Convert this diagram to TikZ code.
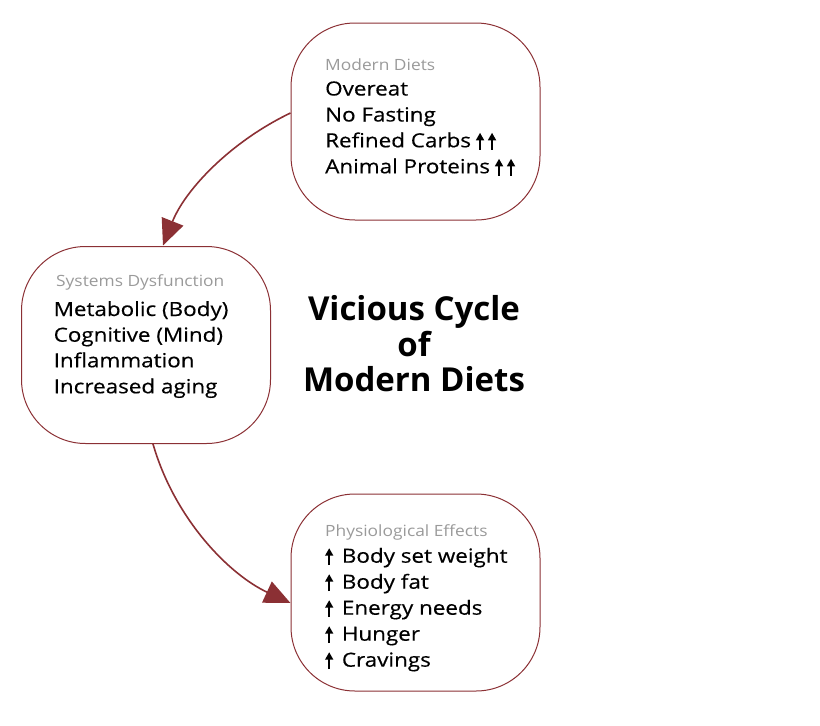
\documentclass[tikz,border=0pt]{standalone}
\usepackage{fontspec}
\setmainfont[FakeStretch=1.15,FakeBold=0.4]{Open Sans}
\newfontfamily\titlefont{Open Sans}
\newfontfamily\headfont[FakeStretch=1.12]{Open Sans}
\usetikzlibrary{arrows.meta}
\definecolor{boxred}{HTML}{8B3034}
\definecolor{subgray}{HTML}{9A9A9A}
\newcommand{\uparr}{\tikz[baseline=0pt]\draw[line width=1.5pt,-{Triangle[length=7.5pt,width=8pt]}] (0,-2.5pt) -- (0,14.5pt);}
\tikzset{
  box/.style={draw=boxred, line width=1pt, rounded corners=64pt, minimum width=249pt, minimum height=197pt, inner sep=0pt},
  heading/.style={anchor=base west, inner sep=0pt, text=subgray, font=\headfont\fontsize{15.5}{18}\selectfont},
  item/.style={anchor=base west, inner sep=0pt, font=\fontsize{19.5}{22}\selectfont},
  upar/.style={anchor=base west, inner sep=0pt},
  title/.style={align=center, inner sep=0pt, font=\titlefont\bfseries\fontsize{33}{35.5}\selectfont},
  link/.style={draw=boxred, line width=1.6pt, -{Triangle[length=26pt,width=23pt]}}
}
\begin{document}
\begin{tikzpicture}[x=1pt,y=-1pt]
\useasboundingbox (0,0) rectangle (820,726);
\node[box] (top) at (415.5,121.5) {};
\node[box] (left) at (146,345) {};
\node[box] (bot) at (415.5,592.5) {};

\node[heading] (th) at (325,70) {Modern Diets};
\node[item] (t1) at (325,95.5) {Overeat};
\node[item] (t2) at (325,121.5) {No Fasting};
\node[item] (t3) at (325,147.3) {Refined Carbs\hspace{5pt}\uparr\hspace{4pt}\uparr};
\node[item] (t4) at (325,173.3) {Animal Proteins\hspace{5pt}\uparr\hspace{4pt}\uparr};

\node[heading] (lh) at (56,286.7) {Systems Dysfunction};
\node[item] (l1) at (53.5,316) {Metabolic (Body)};
\node[item] (l2) at (53.5,341.7) {Cognitive (Mind)};
\node[item] (l3) at (53.5,367.3) {Inflammation};
\node[item] (l4) at (53.5,393.3) {Increased aging};

\node[heading] (bh) at (325,536) {Physiological Effects};
\node[upar] (ba1) at (325,562.7) {\uparr};
\node[item] (b1) at (341.7,562.7) {Body set weight};
\node[upar] (ba2) at (325,588.7) {\uparr};
\node[item] (b2) at (341.7,588.7) {Body fat};
\node[upar] (ba3) at (325,614.7) {\uparr};
\node[item] (b3) at (341.7,614.7) {Energy needs};
\node[upar] (ba4) at (325,640.7) {\uparr};
\node[item] (b4) at (341.7,640.7) {Hunger};
\node[upar] (ba5) at (325,666.7) {\uparr};
\node[item] (b5) at (341.7,666.7) {Cravings};

\node[title] (ttl) at (414,344) {Vicious Cycle\\of\\Modern Diets};

\coordinate (a1s) at ([yshift=8.5pt]top.west);
\coordinate (a1e) at (163,245.5);
\coordinate (a2s) at (153,444);
\coordinate (a2e) at ([yshift=-10.5pt]bot.west);
\draw[link] (a1s) .. controls (230,142) and (185,190) .. (a1e);
\draw[link] (a2s) .. controls (175,520) and (230,575) .. (a2e);
\end{tikzpicture}
\end{document}
